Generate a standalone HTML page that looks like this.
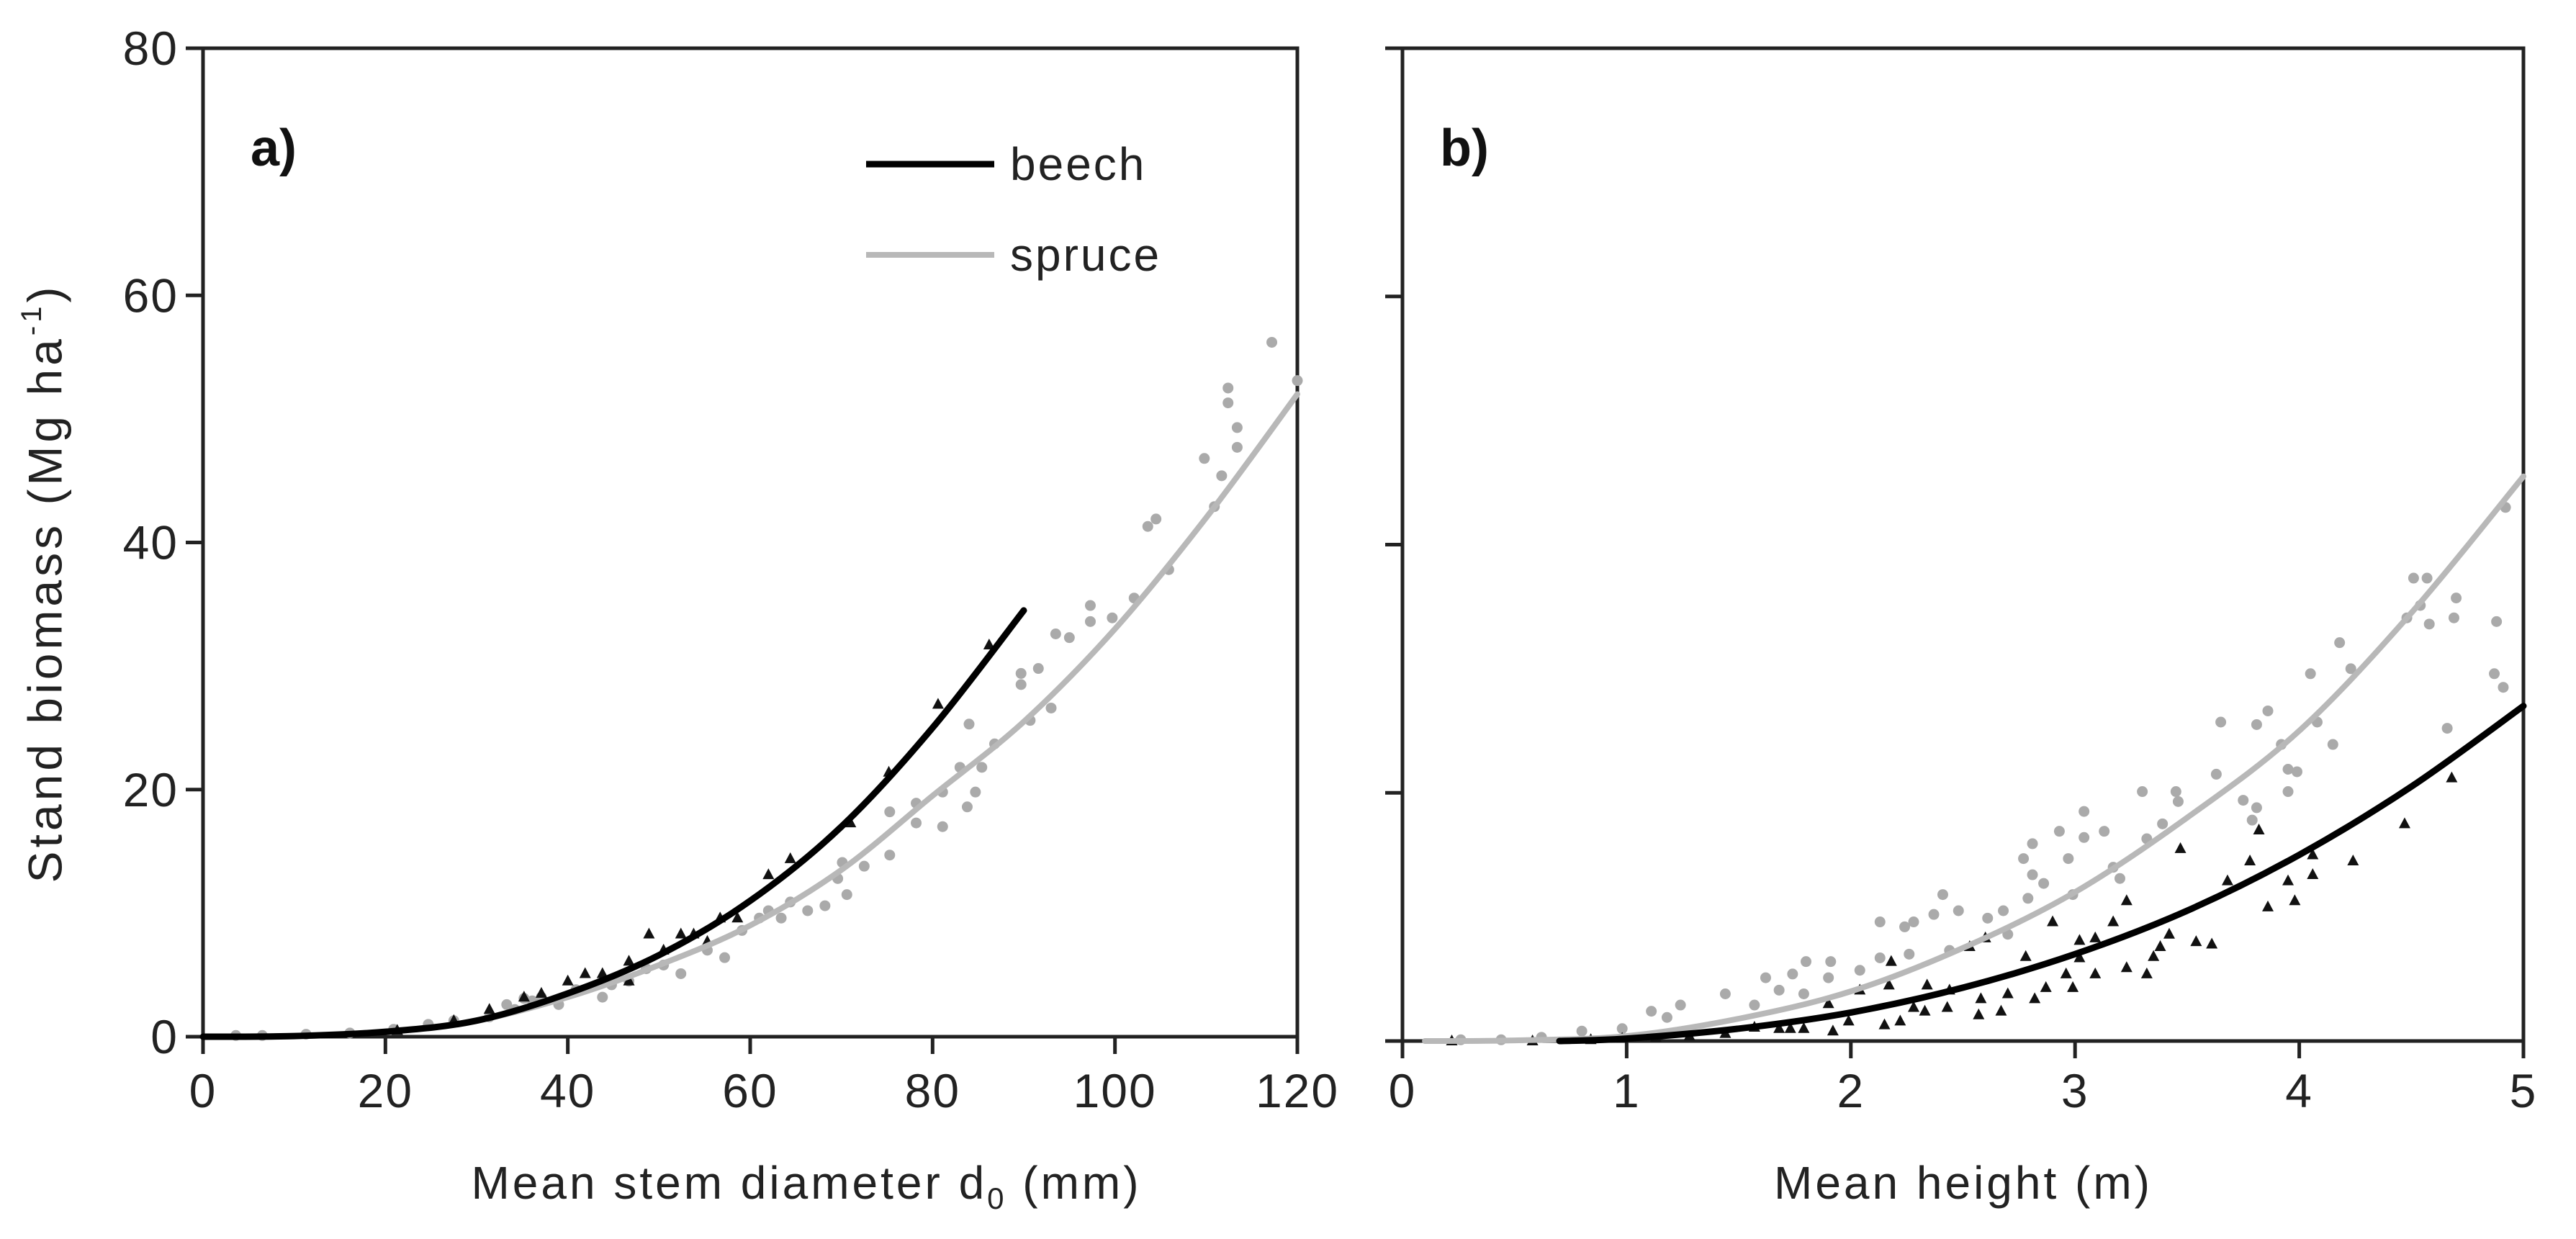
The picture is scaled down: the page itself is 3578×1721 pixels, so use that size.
<!DOCTYPE html>
<html><head><meta charset="utf-8"><style>
html,body{margin:0;padding:0;background:#fff;}
svg{display:block;font-family:"Liberation Sans",Arial,sans-serif;}
</style></head><body>
<svg id="chart" width="3578" height="1721" viewBox="0 0 3578 1721" xmlns="http://www.w3.org/2000/svg">
<rect width="3578" height="1721" fill="#fff"/>
<g id="panelA"></g>
<g id="panelB"></g>
<text x="68" y="810" transform="rotate(-90 68 810)" text-anchor="middle" dominant-baseline="middle" font-size="66" letter-spacing="5" fill="#222">Stand biomass (Mg ha<tspan dy="-22" font-size="40">-1</tspan><tspan dy="22">)</tspan></text>
<text x="1120" y="1665" text-anchor="middle" font-size="64" letter-spacing="4" fill="#222">Mean stem diameter d<tspan dy="14" font-size="42">0</tspan><tspan dy="-14"> (mm)</tspan></text>
<text x="2727" y="1665" text-anchor="middle" font-size="64" letter-spacing="4" fill="#222">Mean height (m)</text>
<text x="380" y="230" font-size="72" font-weight="bold" text-anchor="middle" fill="#111">a)</text>
<text x="2034" y="230" font-size="72" font-weight="bold" text-anchor="middle" fill="#111">b)</text>
<g>
<line x1="1203" y1="228" x2="1381" y2="228" stroke="#000" stroke-width="9"/>
<text x="1403" y="250" font-size="64" letter-spacing="3" fill="#222">beech</text>
<line x1="1203" y1="354" x2="1381" y2="354" stroke="#b8b8b8" stroke-width="8"/>
<text x="1403" y="376" font-size="64" letter-spacing="3" fill="#222">spruce</text>
</g>
</svg>
<script>
// Panel a data
const aXTicks = [0,20,40,60,80,100,120];
const aYTicks = [0,20,40,60,80];
const aBeechCurveX = [0,10,20,30,40,50,60,70,80,90];
const aBeechCurveY = [0,0.05,0.4,1.3,3.5,6.6,11,17,25,34.5];
const aSpruceCurveX = [0,10,20,30,40,50,60,70,80,90,100,110,120];
const aSpruceCurveY = [0,0.05,0.4,1.3,3.2,5.8,9,13.5,19.5,25.5,33,42,52];
const aSpruceX = [117.2,112.4,112.4,113.4,111.7,113.4,109.8,120,110.9,103.6,104.5,105.9,102.1,99.7,97.3,97.3,93.5,95,91.6,89.7,89.7,93,90.7,86.8,84,83,85.4,84.7,83.8,81.1,81.1,78.2,75.3,78.2,75.3,72.5,70.1,70.6,69.6,68.2,66.3,64.4,63.4,61,57.2,55.3,52.4,50.5,46.7,43.8,40.9,39,36.1,34.2,31.4,27.5,24.7,20.9,16.1,11.3,6.5,3.6,35.2,33.3,37.1,44.8,48.6,59.1,62];
const aSpruceY = [56.2,52.5,51.3,49.3,45.4,47.7,46.8,53.1,42.9,41.3,41.9,37.8,35.5,33.9,34.9,33.6,32.6,32.3,29.8,29.4,28.5,26.6,25.6,23.7,25.3,21.8,21.8,19.8,18.6,19.8,17,18.9,18.2,17.3,14.7,13.8,14.1,11.5,12.8,10.6,10.2,10.9,9.6,9.6,6.4,7,5.1,5.8,4.5,3.2,3.8,2.6,2.9,2.2,1.6,1.3,1,0.6,0.3,0.2,0.1,0.1,3.1,2.6,3.2,4.2,5.5,8.6,10.2];
const aBeechX = [86.2,80.6,75.2,71,64.4,62,58.6,56.7,53.8,52.4,48.9,50.5,46.7,43.8,41.9,40,37.1,35.2,31.4,27.5,21.3,46.7,55.3];
const aBeechY = [31.7,26.9,21.4,17.3,14.4,13.1,9.6,9.6,8.3,8.3,8.3,7,6.1,5.1,5.1,4.5,3.5,3.2,2.2,1.3,0.5,4.5,7.7];
// Panel b data
const bXTicks = [0,1,2,3,4,5];
const bYTicks = [0,20,40,60,80];
const bSpruceCurveX = [0.1,0.5,1,1.5,2,2.5,3,3.5,4,4.5,5];
const bSpruceCurveY = [0,0.05,0.4,1.8,4,7.5,12,18,25,34.5,45.5];
const bBeechCurveX = [0.7,1,1.5,2,2.5,3,3.5,4,4.5,5];
const bBeechCurveY = [0,0.2,1,2.3,4.3,7,10.5,15,20.5,27];
const bSpruceX = [4.92,4.88,4.87,4.91,4.7,4.69,4.57,4.51,4.54,4.58,4.48,4.66,4.18,4.23,4.05,4.08,4.15,3.99,3.95,3.95,3.92,3.86,3.81,3.75,3.81,3.79,3.65,3.63,3.45,3.46,3.3,3.39,3.32,3.17,3.13,3.04,3.04,2.93,2.97,2.81,2.77,2.81,2.86,2.79,2.68,2.61,2.48,2.41,2.37,2.28,2.24,2.13,2.26,2.13,2.04,1.91,1.8,1.74,1.62,1.68,1.44,1.24,1.11,1.18,0.98,0.8,0.62,0.26,0.44,1.57,1.79,1.9,2.44,2.7,2.99,3.2];
const bSpruceY = [43,33.8,29.6,28.5,35.7,34.1,37.3,37.3,35.1,33.6,34.1,25.2,32.1,30,29.6,25.7,23.9,21.7,21.9,20.1,23.9,26.6,25.5,19.4,18.8,17.8,25.7,21.5,20.1,19.3,20.1,17.5,16.3,14,16.9,18.5,16.4,16.9,14.7,15.9,14.7,13.4,12.7,11.5,10.5,9.9,10.5,11.8,10.2,9.6,9.2,9.6,7,6.7,5.7,6.4,6.4,5.4,5.1,4.1,3.8,2.9,2.4,1.9,1,0.8,0.3,0.1,0.1,2.9,3.8,5.1,7.3,8.6,11.8,13.1];
const bBeechX = [4.68,4.47,4.24,4.06,4.06,3.95,3.98,3.86,3.82,3.78,3.68,3.61,3.54,3.47,3.42,3.38,3.35,3.32,3.23,3.17,3.23,3.09,3.09,3.02,3.02,2.99,2.96,2.9,2.87,2.82,2.78,2.7,2.67,2.58,2.57,2.6,2.53,2.44,2.43,2.34,2.33,2.28,2.18,2.17,2.22,2.15,2.04,1.99,1.92,1.9,1.79,1.73,1.68,1.57,1.44,1.28,1.13,0.98,0.84,0.58,0.22];
const bBeechY = [21.2,17.5,14.5,15,13.4,12.9,11.3,10.8,17,14.5,12.9,7.8,8,15.5,8.6,7.6,6.8,5.4,11.3,9.6,5.9,8.3,5.4,8.1,6.7,4.3,5.4,9.6,4.3,3.4,6.8,3.8,2.4,3.4,2.1,8.3,7.6,4.1,2.7,4.5,2.4,2.7,6.4,4.5,1.6,1.3,4.1,1.6,0.8,3,1,1,1,1.1,0.6,0.4,0.3,0.2,0.1,0,0];

const NS = 'http://www.w3.org/2000/svg';
function mk(tag, attrs, parent){const e=document.createElementNS(NS,tag);for(const k in attrs)e.setAttribute(k,attrs[k]);parent.appendChild(e);return e;}

function smoothPath(pts){
  let d = 'M'+pts[0][0].toFixed(1)+' '+pts[0][1].toFixed(1);
  for(let i=0;i<pts.length-1;i++){
    const p0=pts[Math.max(0,i-1)], p1=pts[i], p2=pts[i+1], p3=pts[Math.min(pts.length-1,i+2)];
    const c1=[p1[0]+(p2[0]-p0[0])/6, p1[1]+(p2[1]-p0[1])/6];
    const c2=[p2[0]-(p3[0]-p1[0])/6, p2[1]-(p3[1]-p1[1])/6];
    d+=' C'+c1[0].toFixed(1)+' '+c1[1].toFixed(1)+' '+c2[0].toFixed(1)+' '+c2[1].toFixed(1)+' '+p2[0].toFixed(1)+' '+p2[1].toFixed(1);
  }
  return d;
}

function drawPanel(g, cfg){
  const sx = v => cfg.x0 + (v - cfg.xmin)/(cfg.xmax - cfg.xmin)*(cfg.x1 - cfg.x0);
  const sy = v => cfg.y0 - (v - cfg.ymin)/(cfg.ymax - cfg.ymin)*(cfg.y0 - cfg.y1);
  const frame = mk('rect',{x:cfg.x0,y:cfg.y1,width:cfg.x1-cfg.x0,height:cfg.y0-cfg.y1,fill:'none',stroke:'#222','stroke-width':5},g);
  
  
  cfg.yTicks.forEach(t=>{
    const l = mk('line',{x1:cfg.x0-24,x2:cfg.x0,y1:sy(t),y2:sy(t),stroke:'#222','stroke-width':5},g);
    
    
    if(cfg.yLabels){
      const tx = mk('text',{x:cfg.x0-34,y:sy(t),'text-anchor':'end','dominant-baseline':'central','font-size':66,'letter-spacing':2,fill:'#222'},g);
      tx.textContent = t;
      
      
    }
  });
  cfg.xTicks.forEach(t=>{
    const l = mk('line',{x1:sx(t),x2:sx(t),y1:cfg.y0,y2:cfg.y0+24,stroke:'#222','stroke-width':5},g);
    
    
    const tx = mk('text',{x:sx(t),y:1515,'text-anchor':'middle','dominant-baseline':'central','font-size':66,'letter-spacing':2,fill:'#222'},g);
    tx.textContent = t;
    
    
  });
  cfg.spruceX.forEach((x,i)=>{
    const c = mk('circle',{cx:sx(x),cy:sy(cfg.spruceY[i]),r:7.5,fill:'#aaaaaa'},g);
    
    
  });
  cfg.beechX.forEach((x,i)=>{
    const cx=sx(x), cy=sy(cfg.beechY[i]);
    const p = mk('polygon',{points:`${cx},${cy-9} ${cx-8},${cy+6} ${cx+8},${cy+6}`,fill:'#111'},g);
    
    
  });
  const ptsS = cfg.spruceCX.map((x,i)=>[sx(x),sy(cfg.spruceCY[i])]);
  const ptsB = cfg.beechCX.map((x,i)=>[sx(x),sy(cfg.beechCY[i])]);
  const sl = mk('path',{d:smoothPath(ptsS),fill:'none',stroke:'#b8b8b8','stroke-width':8,'stroke-linejoin':'round','stroke-linecap':'round'},g);
  
  
  const bl = mk('path',{d:smoothPath(ptsB),fill:'none',stroke:'#000','stroke-width':9,'stroke-linejoin':'round','stroke-linecap':'round'},g);
  
  
}

drawPanel(document.getElementById('panelA'),{id:'a',x0:282,x1:1802,y0:1440,y1:67,xmin:0,xmax:120,ymin:0,ymax:80,
  xTicks:aXTicks,yTicks:aYTicks,yLabels:true,spruceX:aSpruceX,spruceY:aSpruceY,beechX:aBeechX,beechY:aBeechY,
  spruceCX:aSpruceCurveX,spruceCY:aSpruceCurveY,beechCX:aBeechCurveX,beechCY:aBeechCurveY});
drawPanel(document.getElementById('panelB'),{id:'b',x0:1948,x1:3505,y0:1446,y1:67,xmin:0,xmax:5,ymin:0,ymax:80,
  xTicks:bXTicks,yTicks:bYTicks,yLabels:false,spruceX:bSpruceX,spruceY:bSpruceY,beechX:bBeechX,beechY:bBeechY,
  spruceCX:bSpruceCurveX,spruceCY:bSpruceCurveY,beechCX:bBeechCurveX,beechCY:bBeechCurveY});
</script>
</body></html>
